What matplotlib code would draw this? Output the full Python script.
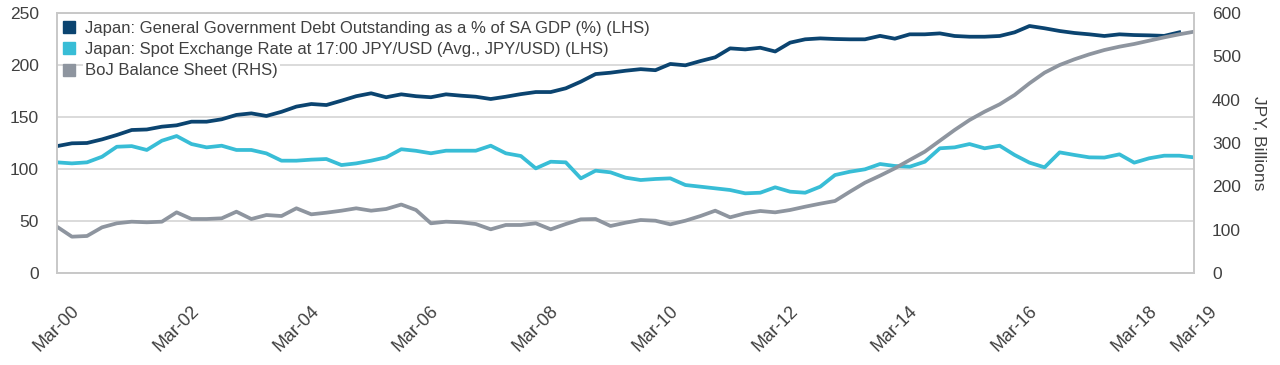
import matplotlib.pyplot as plt
from matplotlib.lines import Line2D
import pandas as pd

plt.rcParams["font.family"] = ["Liberation Sans", "DejaVu Sans"]

# quarterly, Mar-00 .. Mar-19
quarters = pd.date_range("2000-03-31", periods=77, freq="QE")

# general government debt, % of SA GDP (LHS) - last print Dec-18
debt_pct_gdp = [
    122, 124.7, 125, 128.5, 132.7, 137.5, 138, 140.7, 142, 145.5,
    145.5, 147.8, 152, 153.5, 151, 155, 160, 162.5, 161.5, 165.7,
    170, 172.8, 169, 171.8, 170, 169, 171.8, 170.5, 169.5, 167.3,
    169.5, 172, 174, 174, 177.6, 184, 191.3, 192.6, 194.5, 196,
    195, 201, 199.7, 203.8, 207.4, 216, 215, 216.6, 213, 221.5,
    224.7, 225.6, 225, 224.7, 224.7, 228, 225.3, 229.5, 229.5, 230.4,
    227.9, 227.2, 227.2, 227.9, 231.4, 237.5, 235.3, 232.7, 230.8, 229.5,
    227.9, 229.5, 228.8, 228.5, 228, 231.4,
]

# spot JPY/USD, quarterly average (LHS)
jpy_usd = [
    106.4, 105.4, 106.4, 111.8, 121.4, 122, 118.3, 127.2, 131.7, 124,
    120.8, 122.4, 118.3, 118.3, 115, 108, 108, 109, 109.6, 103.8,
    105.4, 108, 111.2, 119, 117.5, 115.1, 117.6, 117.6, 117.6, 122.4,
    115.1, 112.5, 100.6, 107, 106.4, 91, 98.4, 96.8, 91.7, 89.4,
    90.4, 91, 84.6, 83, 81.4, 79.8, 76.6, 77.2, 82.4, 78.2,
    77.2, 83, 94.2, 97.4, 99.7, 104.8, 102.9, 102.2, 107, 119.9,
    120.8, 124, 119.9, 122.4, 113.5, 106.1, 101.6, 116, 113.5, 111.2,
    111, 114.1, 106.1, 110.3, 112.8, 112.8, 111.2,
]

# BoJ balance sheet, JPY bn (RHS)
boj_balance = [
    106.8, 83.8, 85.4, 105.4, 114.7, 118.4, 117, 118.4, 140, 124.6,
    124.6, 126.2, 141.5, 124.6, 133.8, 131.5, 149.3, 135.4, 139.2, 143.8,
    149.3, 143.8, 147.7, 158, 145.4, 114.7, 118.4, 117, 113, 100.8,
    110.8, 110.8, 114.7, 100.8, 113, 123.9, 124.6, 108.5, 116.1, 122.3,
    120.7, 112.3, 120.7, 131.5, 143.8, 128.5, 137.8, 143.1, 140, 145.4,
    153, 160, 166.2, 187.6, 208.4, 224.6, 241.5, 260.8, 280, 305.3,
    330, 353, 372.3, 389.3, 410.8, 437.8, 462.3, 480, 493.1, 504.6,
    514.6, 522.3, 528.5, 536.1, 543.8, 550.8, 556.9,
]

labels = [
    "Japan: General Government Debt Outstanding as a % of SA GDP (%) (LHS)",
    "Japan: Spot Exchange Rate at 17:00 JPY/USD (Avg., JPY/USD) (LHS)",
    "BoJ Balance Sheet (RHS)",
]
colors = ["#0b4470", "#38bdd6", "#8e959f"]
tick_dates = pd.to_datetime(["2000-03-31", "2002-03-31", "2004-03-31", "2006-03-31",
                             "2008-03-31", "2010-03-31", "2012-03-31", "2014-03-31",
                             "2016-03-31", "2018-03-31", "2019-03-31"])

txt = "#404040"
edge = "#c8c8c8"

fig = plt.figure(figsize=(12.8, 3.65), dpi=100)
ax = fig.add_axes([57 / 1280, 92 / 365, 1137 / 1280, 260 / 365])
ax2 = ax.twinx()

ax.plot(quarters[:len(debt_pct_gdp)], debt_pct_gdp, color=colors[0], lw=2.7)
ax.plot(quarters, jpy_usd, color=colors[1], lw=2.7)
ax2.plot(quarters, boj_balance, color=colors[2], lw=2.7)

ax.set_ylim(0, 250)
ax2.set_ylim(0, 600)
ax.set_xlim(quarters[0], quarters[-1])
ax.set_yticks(range(0, 251, 50))
ax2.set_yticks(range(0, 601, 100))
ax.set_xticks(tick_dates)
ax.set_xticklabels([d.strftime("%b-%y") for d in tick_dates], rotation=45, ha="center")

ax.grid(axis="y", color="#d4d4d4", lw=1.2)
ax.set_axisbelow(True)
for a in (ax, ax2):
    for s in a.spines.values():
        s.set_color(edge)
        s.set_linewidth(1.2)
ax.tick_params(axis="y", length=0, pad=13, labelsize=12.5, labelcolor=txt)
ax.tick_params(axis="x", length=0, pad=21, labelsize=13, labelcolor=txt)
ax2.tick_params(axis="y", length=0, pad=13, labelsize=12.5, labelcolor=txt)
ax2.set_ylabel("JPY, Billions", rotation=270, fontsize=12.5, color=txt, labelpad=18)

handles = [Line2D([], [], marker="s", ls="", ms=8, color=c) for c in colors]
leg = ax2.legend(handles, labels, loc="upper left", bbox_to_anchor=(0.003, 0.97),
                 frameon=False, borderpad=0, borderaxespad=0, handlelength=1.0,
                 handletextpad=0.5, labelspacing=0.38, fontsize=12)
for t in leg.get_texts():
    t.set_color(txt)
    t.set_bbox(dict(facecolor="white", edgecolor="none", pad=1.5))

fig.savefig("out.png", dpi=100)
